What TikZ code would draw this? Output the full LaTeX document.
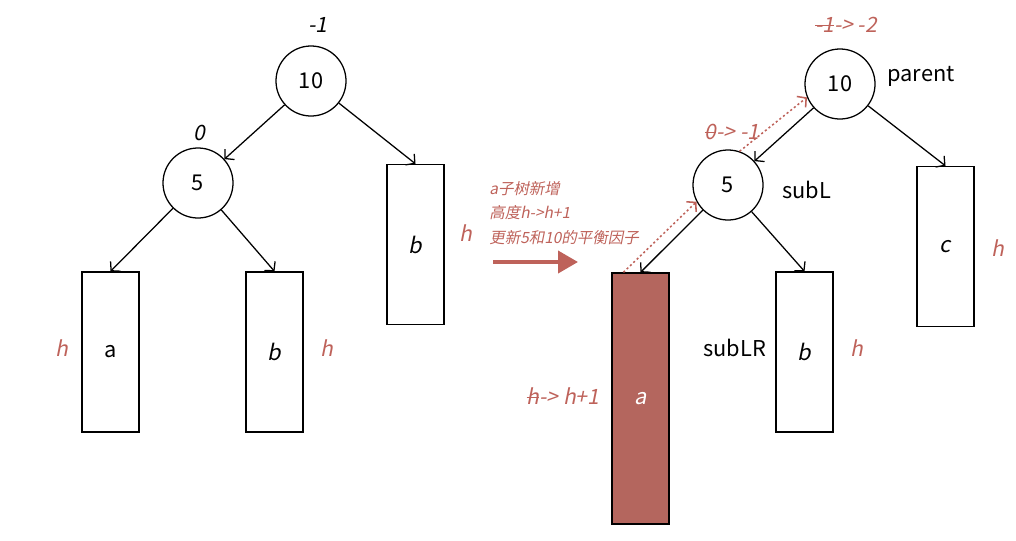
\documentclass[tikz,border=0pt]{standalone}
\usepackage{fontspec}
\setmainfont{Noto Sans CJK SC}[AutoFakeSlant=0.2]
\usetikzlibrary{arrows.meta}
\definecolor{hred}{RGB}{190,98,90}
\definecolor{boxred}{RGB}{180,102,94}
\newcommand{\strk}[1]{\setbox0\hbox{#1}\rlap{\raisebox{0.32em}{\rule{\wd0}{0.7pt}}}\box0}

\begin{document}
\begin{tikzpicture}[x=0.025cm,y=-0.025cm,line width=0.9pt,>={Straight Barb[length=4.5pt,width=10pt]},
    treenode/.style={draw,circle,minimum size=1.75cm,inner sep=0pt,font=\fontsize{15.5}{18}\selectfont},
    subtree/.style={draw,rectangle,minimum width=1.425cm,minimum height=4cm,inner sep=0pt,font=\fontsize{15.5}{18}\selectfont},
    note/.style={text=hred,font=\fontsize{15}{18}\selectfont\itshape},
    plain/.style={font=\fontsize{15.5}{18}\selectfont}]
        \useasboundingbox (0,0) rectangle (1016,540);

        % before: left tree
        \node[treenode] (p10) at (311,81) {10};
        \node[treenode] (p5) at (198,183) {5};
        \node[subtree] (pa) at (110.5,352) {a};
        \node[subtree] (pb) at (274.5,352) {\itshape b};
        \node[subtree] (pc) at (415.5,244.5) {\itshape b};
        \draw[->] (p10) -- (p5);
        \draw[->] (p10) -- (pc.north);
        \draw[->] (p5) -- (pa.north);
        \draw[->] (p5) -- (pb.north);
        \node[note,text=black] (bf10) at (318,25) {-1};
        \node[note,text=black] (bf5) at (199,133) {0};
        \node[note] (ha) at (62,348) {h};
        \node[note] (hb) at (327,348) {h};
        \node[note] (hc) at (466,233) {h};

        % middle: what happens
        \node[note,font=\fontsize{11}{17.5}\selectfont\itshape,align=left,anchor=north west]
            (info) at (484,176) {a子树新增\\高度h->h+1\\更新5和10的平衡因子};
        \coordinate (go1) at (493,262);
        \coordinate (go2) at (578,262);
        \draw[hred,line width=2.8pt,-{Triangle[length=0.5cm,width=0.55cm]}] (go1) -- (go2);

        % after: right tree
        \node[treenode] (q10) at (840,84) {10};
        \node[treenode] (q5) at (728,185) {5};
        \node[subtree,minimum height=6.275cm,fill=boxred,text=white] (qa) at (640.5,398.5) {\itshape a};
        \node[subtree] (qb) at (804.5,352) {\itshape b};
        \node[subtree] (qc) at (945.5,246.5) {\itshape c};
        \draw[->] (q10) -- (q5);
        \draw[->] (q10) -- (qc.north);
        \draw[->] (q5) -- (qa.north);
        \draw[->] (q5) -- (qb.north);
        \draw[hred,line width=1.1pt,dash pattern=on 1.5pt off 1.8pt,->] ([xshift=0.3cm]qa.north west) -- (q5.208);
        \draw[hred,line width=1.1pt,dash pattern=on 1.5pt off 1.8pt,->] (q5.71) -- (q10.202);
        \node[plain,anchor=west] (lp) at (882,76) {parent};
        \node[plain,anchor=west] (lsl) at (777,190) {subL};
        \node[plain,anchor=west] (lslr) at (698,348) {subLR};
        \node[note] (af10) at (846,25) {\strk{-1} -> -2};
        \node[note] (af5) at (732,132) {\strk{0} -> -1};
        \node[note] (hqa) at (563,396) {\strk{h} -> h+1};
        \node[note] (hqb) at (857,348) {h};
        \node[note] (hqc) at (998,248) {h};
    \end{tikzpicture}
\end{document}
